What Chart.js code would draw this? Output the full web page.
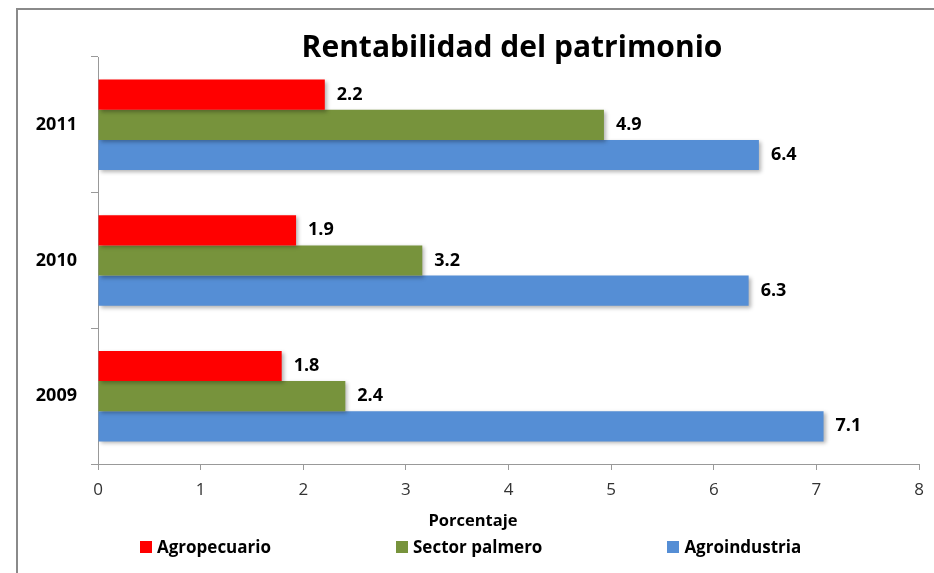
<!DOCTYPE html>
<html>
<head>
<meta charset="utf-8">
<script src="https://cdn.jsdelivr.net/npm/chart.js@4.4.0/dist/chart.umd.min.js"></script>
<style>
  html, body { margin: 0; padding: 0; background: #fff; }
  #wrap { position: relative; width: 934px; height: 573px; overflow: hidden; font-family: 'Open Sans', sans-serif; }
  #frame { position: absolute; left: 16px; top: 8px; width: 1000px; height: 1000px;
           border-left: 2px solid #8a8a8a; border-top: 2px solid #8a8a8a; }
  canvas { position: absolute; left: 0; top: 0; }
  #title { position: absolute; left: 0; width: 1024px; top: 26px; text-align: center;
           font-weight: 700; font-size: 30px; line-height: 40px; color: #000; }
  #xtitle { position: absolute; left: 0; width: 946px; top: 509px; text-align: center;
            font-weight: 700; font-size: 16.5px; line-height: 22px; color: #000; }
  #legend { position: absolute; left: 140px; top: 536px; display: flex; gap: 125px; }
  .leg { font-weight: 700; font-size: 17px; line-height: 22px; white-space: nowrap; color: #000; display: flex; align-items: center; }
  .leg i { display: inline-block; width: 12px; height: 12px; margin-right: 5px; }
</style>
</head>
<body>
<div id="wrap">
  <div id="frame"></div>
  <canvas id="chart" width="934" height="573"></canvas>
  <div id="title">Rentabilidad del patrimonio</div>
  <div id="xtitle">Porcentaje</div>
  <div id="legend"></div>
</div>
<script>
const years = ['2011', '2010', '2009'];
const agropecuario = [2.21, 1.93, 1.79];
const sectorPalmero = [4.93, 3.16, 2.41];
const agroindustria = [6.44, 6.34, 7.07];
const seriesNames = ['Agropecuario', 'Sector palmero', 'Agroindustria'];
const seriesColors = ['#ff0000', '#77933c', '#558ed5'];
const xMin = 0, xMax = 8, xStep = 1;

const seriesValues = [agropecuario, sectorPalmero, agroindustria];

// Sombra debajo de las barras
const barShadow = {
    id: 'barShadow',
    beforeDatasetsDraw(chart) {
        const ctx = chart.ctx;
        ctx.save();
        ctx.shadowColor = 'rgba(0, 0, 0, 0.3)';
        ctx.shadowBlur = 4;
        ctx.shadowOffsetX = 2;
        ctx.shadowOffsetY = 2;
    },
    afterDatasetsDraw(chart) {
        chart.ctx.restore();
    }
};

// Etiquetas de valores al final de cada barra
const valueLabels = {
    id: 'valueLabels',
    afterDatasetsDraw(chart) {
        const ctx = chart.ctx;
        ctx.save();
        ctx.font = 'bold 18px "Open Sans"';
        ctx.fillStyle = '#000';
        ctx.textAlign = 'left';
        ctx.textBaseline = 'middle';
        chart.data.datasets.forEach((ds, i) => {
            const meta = chart.getDatasetMeta(i);
            meta.data.forEach((bar, j) => {
                ctx.fillText(ds.data[j].toFixed(1), bar.x + 12, bar.y);
            });
        });
        ctx.restore();
    }
};

const datasets = seriesNames.map((name, i) => ({
    label: name,
    data: seriesValues[i],
    backgroundColor: seriesColors[i],
    borderWidth: 0,
    categoryPercentage: 0.667,
    barPercentage: 1
}));

new Chart(document.getElementById('chart').getContext('2d'), {
    type: 'bar',
    data: { labels: years, datasets: datasets },
    options: {
        indexAxis: 'y',
        responsive: false,
        animation: false,
        devicePixelRatio: 1,
        layout: { padding: { top: 57, right: 15, bottom: 0, left: 0 } },
        plugins: {
            legend: { display: false },
            title: { display: false },
            tooltip: { enabled: false }
        },
        scales: {
            x: {
                min: xMin,
                max: xMax,
                ticks: {
                    stepSize: xStep,
                    font: { family: 'Open Sans', size: 17 },
                    color: '#333',
                    padding: 10
                },
                grid: { drawOnChartArea: false, tickLength: 6, color: '#999' },
                border: { color: '#999' },
                afterFit(scale) { scale.height = 109; }
            },
            y: {
                ticks: {
                    font: { family: 'Open Sans', size: 18, weight: 'bold' },
                    color: '#000',
                    padding: 14
                },
                grid: { drawOnChartArea: false, tickLength: 7, color: '#999', offset: true },
                border: { color: '#999' },
                afterFit(scale) { scale.width = 98; }
            }
        }
    },
    plugins: [barShadow, valueLabels]
});

// Leyenda
const legend = document.getElementById('legend');
seriesNames.forEach((name, i) => {
    const item = document.createElement('div');
    item.className = 'leg';
    const box = document.createElement('i');
    box.style.background = seriesColors[i];
    item.appendChild(box);
    item.appendChild(document.createTextNode(name));
    legend.appendChild(item);
});
</script>
</body>
</html>
